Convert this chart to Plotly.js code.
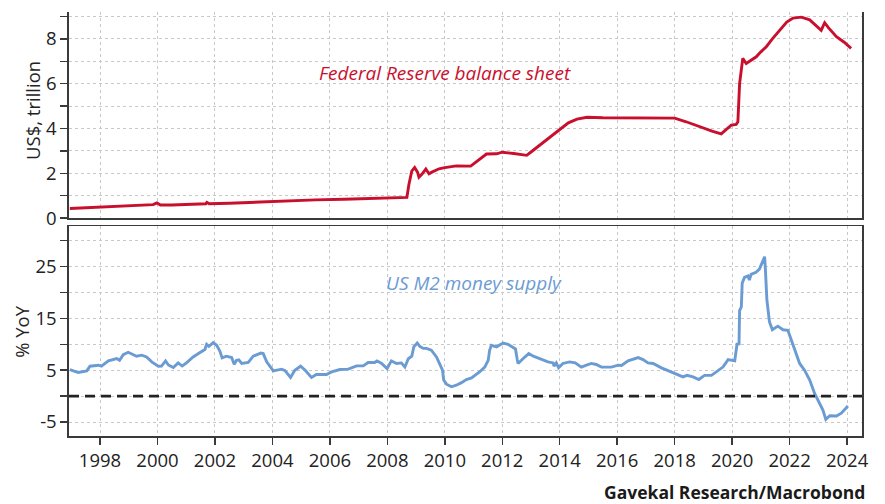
<!DOCTYPE html>
<html>
<head>
<meta charset="utf-8">
<script src="https://cdn.plot.ly/plotly-3.0.1.min.js"></script>
<style>html,body{margin:0;padding:0;background:#fff;}#chart{width:885px;height:504px;}</style>
</head>
<body>
<div id="chart"></div>
<script>
// Federal Reserve balance sheet, US$ trillion (decimal year)
const fedYears = [1996.95,1997.5,1998.5,1999.5,1999.85,1999.98,2000.1,2000.5,2001.0,2001.68,2001.72,2001.8,2002.5,2003.5,2004.5,2005.5,2006.5,2007.5,2008.6,2008.68,2008.75,2008.85,2008.95,2009.05,2009.1,2009.2,2009.34,2009.45,2009.55,2009.8,2010.0,2010.4,2010.9,2011.2,2011.45,2011.8,2012.0,2012.4,2012.85,2013.0,2013.5,2014.0,2014.3,2014.6,2014.95,2015.5,2016.5,2017.5,2018.0,2018.4,2018.9,2019.3,2019.62,2019.8,2019.97,2020.14,2020.2,2020.26,2020.37,2020.49,2020.6,2020.84,2021.0,2021.19,2021.4,2021.65,2021.9,2022.12,2022.41,2022.7,2022.9,2023.1,2023.22,2023.35,2023.63,2023.9,2024.14];
const fedValues = [0.43,0.46,0.50,0.55,0.60,0.68,0.58,0.58,0.61,0.64,0.70,0.64,0.66,0.72,0.76,0.81,0.84,0.87,0.90,0.92,1.50,2.10,2.26,2.05,1.82,1.95,2.19,1.98,2.05,2.20,2.25,2.33,2.32,2.60,2.86,2.87,2.94,2.88,2.80,2.95,3.45,3.95,4.25,4.42,4.50,4.48,4.47,4.47,4.46,4.30,4.05,3.88,3.76,3.98,4.15,4.18,4.30,6.00,7.13,6.90,7.00,7.20,7.42,7.65,8.00,8.40,8.75,8.93,8.97,8.85,8.62,8.38,8.72,8.50,8.10,7.85,7.58];

// US M2 money supply, % YoY (decimal year)
const m2Years = [1996.95,1997.24,1997.54,1997.65,1997.94,1998.05,1998.29,1998.58,1998.68,1998.81,1998.98,1999.1,1999.27,1999.45,1999.62,1999.8,2000.03,2000.14,2000.28,2000.38,2000.55,2000.72,2000.86,2001.01,2001.24,2001.48,2001.65,2001.71,2001.79,2001.94,2002.06,2002.17,2002.25,2002.4,2002.58,2002.67,2002.75,2002.83,2002.93,2003.16,2003.33,2003.51,2003.6,2003.68,2003.8,2004.03,2004.32,2004.44,2004.63,2004.78,2004.98,2005.14,2005.36,2005.53,2005.88,2006.06,2006.35,2006.64,2006.93,2007.16,2007.33,2007.56,2007.64,2007.8,2007.99,2008.14,2008.32,2008.49,2008.61,2008.73,2008.85,2008.92,2009.04,2009.13,2009.25,2009.36,2009.53,2009.71,2009.82,2009.92,2009.96,2010.06,2010.23,2010.4,2010.58,2010.75,2010.93,2011.04,2011.22,2011.39,2011.51,2011.56,2011.62,2011.8,2012.03,2012.2,2012.38,2012.46,2012.52,2012.55,2012.72,2012.92,2013.08,2013.36,2013.59,2013.77,2013.8,2013.88,2013.96,2014.11,2014.34,2014.54,2014.75,2014.93,2015.1,2015.27,2015.45,2015.8,2016.03,2016.15,2016.38,2016.73,2016.9,2017.07,2017.25,2017.54,2017.94,2018.29,2018.43,2018.64,2018.84,2019.04,2019.28,2019.45,2019.68,2019.86,2020.09,2020.17,2020.24,2020.26,2020.32,2020.35,2020.43,2020.55,2020.6,2020.66,2020.83,2020.95,2021.07,2021.13,2021.16,2021.21,2021.3,2021.4,2021.59,2021.77,2021.94,2022.06,2022.23,2022.35,2022.52,2022.7,2022.87,2023.05,2023.16,2023.26,2023.4,2023.63,2023.8,2024.03];
const m2Values = [5.1,4.55,4.87,5.77,5.96,5.77,6.79,7.25,6.9,8.0,8.46,8.2,7.7,7.9,7.56,6.6,5.77,5.8,6.79,6.0,5.5,6.4,5.8,6.4,7.56,8.4,9.0,10.0,9.6,10.3,9.8,8.7,7.37,7.7,7.44,6.15,6.9,7.0,6.3,6.5,7.7,8.1,8.3,8.2,6.6,4.87,5.2,4.9,3.6,5.0,5.77,5.0,3.6,4.17,4.17,4.67,5.13,5.2,5.83,5.83,6.48,6.48,6.8,6.3,5.3,6.8,6.3,6.4,5.6,7.2,7.7,9.5,10.25,9.6,9.2,9.2,8.85,7.56,6.3,5.0,3.1,2.3,1.8,2.1,2.6,3.2,3.5,3.9,4.7,5.6,6.9,8.85,9.8,9.5,10.25,10.0,9.4,9.1,7.05,6.3,7.2,8.2,7.7,7.05,6.6,6.4,5.8,6.4,5.45,6.3,6.6,6.4,5.6,5.96,6.3,6.1,5.6,5.6,5.96,5.9,6.8,7.44,7.05,6.4,6.3,5.45,4.55,3.7,4.0,3.7,3.2,4.0,4.0,4.67,5.6,7.05,6.8,10.0,10.1,16.5,17.2,21.8,22.9,23.2,22.4,23.5,23.9,24.5,26.2,26.9,24.2,18.5,14.3,12.8,13.5,12.8,12.7,10.8,8.5,6.3,5.0,3.1,0.5,-1.4,-2.7,-4.5,-3.8,-3.85,-3.3,-1.9];

// Axis ticks
const xTickYears = [1998,2000,2002,2004,2006,2008,2010,2012,2014,2016,2018,2020,2022,2024];
const fedTickVals = [0,1,2,3,4,5,6,7,8,9];
const fedTickText = ['0','','2','','4','','6','','8',''];
const m2TickVals = [-5,0,5,10,15,20,25,30];
const m2TickText = ['-5','','5','','15','','25',''];

const FONT = 'Open Sans, Noto Sans, sans-serif';
const AX = '#3a3a3a';
const GRID = '#c9c9c9';
const RED = '#c8102e';
const BLUE = '#6b9bd3';
const TXT = '#222222';
const FS = 18.5;

const traces = [
  {x: fedYears, y: fedValues, type: 'scatter', mode: 'lines', xaxis: 'x', yaxis: 'y',
   line: {color: RED, width: 2.9}, hoverinfo: 'skip'},
  {x: m2Years, y: m2Values, type: 'scatter', mode: 'lines', xaxis: 'x2', yaxis: 'y2',
   line: {color: BLUE, width: 2.9}, hoverinfo: 'skip'}
];

const xRange = [1996.92, 2024.52];
const baseX = {
  range: xRange, tickmode: 'array', tickvals: xTickYears,
  showgrid: true, gridcolor: GRID, griddash: 'dot', gridwidth: 1,
  showline: true, linecolor: AX, linewidth: 1.6, zeroline: false
};

const layout = {
  width: 885, height: 504,
  margin: {l: 69, r: 23, t: 12, b: 68},
  paper_bgcolor: '#ffffff', plot_bgcolor: '#ffffff',
  showlegend: false,
  font: {family: FONT, size: FS, color: TXT},
  xaxis: Object.assign({}, baseX, {anchor: 'y', showticklabels: false, ticks: '', mirror: false}),
  xaxis2: Object.assign({}, baseX, {anchor: 'y2', mirror: true, ticks: 'outside', ticklen: 7,
    tickcolor: AX, tickwidth: 1.5, ticktext: xTickYears.map(String), tickfont: {family: FONT, size: FS, color: TXT}}),
  yaxis: {domain: [0.514, 1], anchor: 'x', range: [0, 9.2],
    tickmode: 'array', tickvals: fedTickVals, ticktext: fedTickText,
    ticks: 'outside', ticklen: 7, tickcolor: AX, tickwidth: 1.5,
    showgrid: true, gridcolor: GRID, griddash: 'dot', gridwidth: 1,
    showline: true, linecolor: AX, linewidth: 1.6, mirror: true, zeroline: false,
    tickfont: {family: FONT, size: FS, color: TXT}},
  yaxis2: {domain: [0, 0.495], anchor: 'x2', range: [-7.7, 32.8],
    tickmode: 'array', tickvals: m2TickVals, ticktext: m2TickText,
    ticks: 'outside', ticklen: 7, tickcolor: AX, tickwidth: 1.5,
    showgrid: true, gridcolor: GRID, griddash: 'dot', gridwidth: 1,
    showline: true, linecolor: AX, linewidth: 1.6, mirror: true, zeroline: false,
    tickfont: {family: FONT, size: FS, color: TXT}},
  shapes: [
    {type: 'line', xref: 'x2 domain', yref: 'y2', x0: 0, x1: 1, y0: 0, y1: 0,
     line: {color: '#222222', width: 2.6, dash: '10px,6px'}}
  ],
  annotations: [
    {xref: 'paper', yref: 'paper', x: -0.0454, y: 0.769, xanchor: 'center', yanchor: 'middle',
     textangle: -90, text: 'US$, trillion', showarrow: false,
     font: {family: FONT, size: FS, color: TXT}},
    {xref: 'paper', yref: 'paper', x: -0.0593, y: 0.248, xanchor: 'center', yanchor: 'middle',
     textangle: -90, text: '% YoY', showarrow: false,
     font: {family: FONT, size: FS, color: TXT}},
    {xref: 'x', yref: 'y', x: 2010.0, y: 6.47, text: '<i>Federal Reserve balance sheet</i>',
     showarrow: false, font: {family: FONT, size: 19, color: RED}},
    {xref: 'x2', yref: 'y2', x: 2011.0, y: 21.9, text: '<i>US M2 money supply</i>',
     showarrow: false, font: {family: FONT, size: 19, color: BLUE}},
    {xref: 'paper', yref: 'paper', x: 1.006, y: -0.132, xanchor: 'right', yanchor: 'middle',
     text: '<b>Gavekal Research/Macrobond</b>', showarrow: false,
     font: {family: FONT, size: 17.5, color: '#1a1a1a'}}
  ]
};

Plotly.newPlot('chart', traces, layout, {staticPlot: true, displayModeBar: false});
</script>
</body>
</html>
